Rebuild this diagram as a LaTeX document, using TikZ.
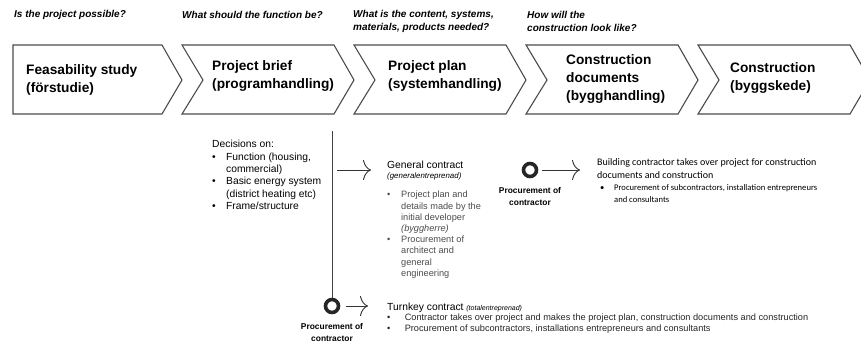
\documentclass[tikz,border=0pt]{standalone}
\usepackage{fontspec}
\setmainfont{Liberation Sans}
\newfontfamily\calibri{Carlito}
\usetikzlibrary{arrows.meta,positioning}

\newcommand{\bul}[1][14pt]{\makebox[#1][l]{\textbullet}}
\newcommand{\ind}[1][14pt]{\hspace*{#1}}

\tikzset{
  stage/.style={draw=black!70, line width=1.1pt, fill=white},
  stagetext/.style={anchor=west, align=left, inner sep=0pt, font=\fontsize{13.7}{18}\selectfont\bfseries},
  question/.style={anchor=west, align=left, inner sep=0pt, font=\fontsize{10}{13}\selectfont\bfseries\itshape},
  body/.style={anchor=north west, align=left, inner sep=0pt, font=\fontsize{10.3}{12.4}\selectfont},
  small/.style={anchor=north west, align=left, inner sep=0pt, font=\fontsize{9.2}{11.2}\selectfont},
  procure/.style={circle, draw=black!85, line width=3.6pt, minimum size=13pt, inner sep=0pt},
  proclabel/.style={align=center, inner sep=0pt, font=\fontsize{8.4}{11.8}\selectfont\bfseries},
  pointer/.style={draw=black!80, line width=0.9pt, -{Computer Modern Rightarrow[length=8pt,width=20pt]}},
  rule/.style={draw=black!75, line width=0.9pt}
}

\begin{document}
\begin{tikzpicture}[x=1pt,y=-1pt]
  \useasboundingbox (0,0) rectangle (861,342);
  \clip (0,0) rectangle (861,342);

  % stages
  \draw[stage] (13,45) -- (162,45) -- (182,80) -- (162,114) -- (13,114) -- cycle;
  \foreach \x in {182,354,526,698}
    \draw[stage] (\x,45) -- ++(152,0) -- ++(20,35) -- ++(-20,34) -- ++(-152,0) -- ++(21,-34) -- cycle;

  \node[stagetext] (s1) at (26,80) {Feasability study\\(förstudie)};
  \node[stagetext] (s2) at (212,76) {Project brief\\(programhandling)};
  \node[stagetext] (s3) at (388,76) {Project plan\\(systemhandling)};
  \node[stagetext] (s4) at (566,79) {Construction\\documents\\(bygghandling)};
  \node[stagetext] (s5) at (730,78) {Construction\\(byggskede)};

  % questions
  \node[question] (q1) at (14,15) {Is the project possible?};
  \node[question] (q2) at (182,15) {What should the function be?};
  \node[question] (q3) at (353,21.5) {What is the content, systems,\\materials, products needed?};
  \node[question] (q4) at (527,21.5) {How will the\\construction look like?};

  % project brief decisions
  \node[body] (dec) at (212,140) {Decisions on:\\\bul Function (housing,\\\ind commercial)\\\bul Basic energy system\\\ind (district heating etc)\\\bul Frame/structure};

  \coordinate (vtop) at (332,131);
  \node[procure] (c1) at (530,170) {};
  \node[procure] (c2) at (332,306) {};
  \node[proclabel, below=9pt of c1] (p1) {Procurement of\\contractor};
  \node[proclabel, below=9pt of c2] (p2) {Procurement of\\contractor};
  \draw[rule] (vtop) -- (c2.north);

  % general contract
  \node[body, anchor=west] (gc) at (387,165) {General contract};
  \node[body, anchor=west, font=\fontsize{7.9}{9}\selectfont\itshape] (gcsub) at (387,176.5) {(generalentreprenad)};
  \node[small, text=black!70] (gclist) at (387,191) {\bul Project plan and\\\ind details made by the\\\ind initial developer\\\ind \textit{(byggherre)}\\\bul Procurement of\\\ind architect and\\\ind general\\\ind engineering};

  % building contractor
  \node[body, font=\calibri\fontsize{10}{13}\selectfont] (bc) at (597,158) {Building contractor takes over project for construction\\documents and construction};
  \node[small, font=\calibri\fontsize{8.6}{12}\selectfont] (bclist) at (600,184) {\bul[12pt] Procurement of subcontractors, installation entrepreneurs\\\ind[12pt] and consultants};

  % turnkey contract
  \node[body, anchor=west] (tk) at (387,308) {Turnkey contract {\fontsize{7}{8}\selectfont\itshape(totalentreprenad)}};
  \node[small, text=black!85] (tklist) at (387,313.5) {\bul[15pt] Contractor takes over project and makes the project plan, construction documents and construction\\\bul[15pt] Procurement of subcontractors, installations entrepreneurs and consultants};

  \draw[pointer, shorten <=5pt, shorten >=16pt] (vtop |- c1) -- (gc.west |- c1);
  \draw[pointer, shorten <=4pt, shorten >=17pt] (c1) -- (bc.west |- c1);
  \draw[pointer, shorten <=6pt, shorten >=19pt] (c2) -- (tk.west |- c2);
\end{tikzpicture}
\end{document}
